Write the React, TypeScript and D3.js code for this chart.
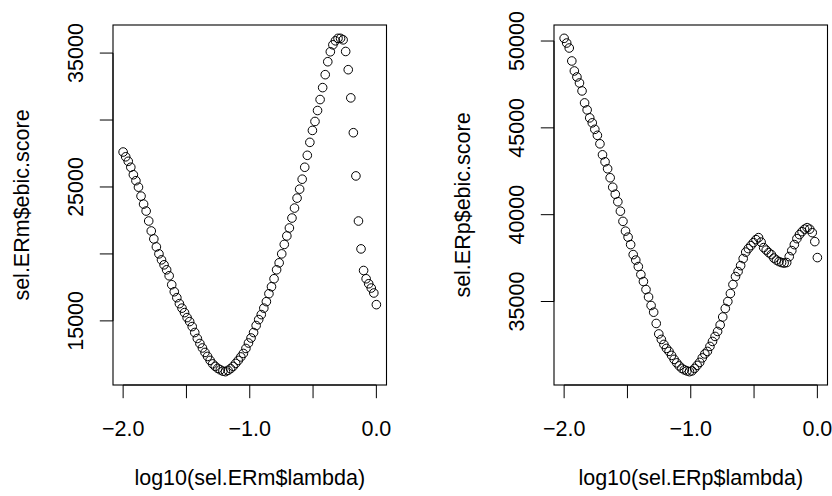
import React from "react";
import * as d3 from "d3";

const logLambda = [
  -2.0, -1.9798, -1.9596, -1.9394, -1.9192, -1.899, -1.8788, -1.8586, -1.8384, -1.8182,
  -1.798, -1.7778, -1.7576, -1.7374, -1.7172, -1.697, -1.6768, -1.6566, -1.6364, -1.6162,
  -1.596, -1.5758, -1.5556, -1.5354, -1.5152, -1.4949, -1.4747, -1.4545, -1.4343, -1.4141,
  -1.3939, -1.3737, -1.3535, -1.3333, -1.3131, -1.2929, -1.2727, -1.2525, -1.2323, -1.2121,
  -1.1919, -1.1717, -1.1515, -1.1313, -1.1111, -1.0909, -1.0707, -1.0505, -1.0303, -1.0101,
  -0.9899, -0.9697, -0.9495, -0.9293, -0.9091, -0.8889, -0.8687, -0.8485, -0.8283, -0.8081,
  -0.7879, -0.7677, -0.7475, -0.7273, -0.7071, -0.6869, -0.6667, -0.6465, -0.6263, -0.6061,
  -0.5859, -0.5657, -0.5455, -0.5253, -0.5051, -0.4848, -0.4646, -0.4444, -0.4242, -0.404,
  -0.3838, -0.3636, -0.3434, -0.3232, -0.303, -0.2828, -0.2626, -0.2424, -0.2222, -0.202,
  -0.1818, -0.1616, -0.1414, -0.1212, -0.101, -0.0808, -0.0606, -0.0404, -0.0202, 0.0,
];

const ermScore = [
  27610, 27253, 26918, 26472, 25914, 25468, 24985, 24316, 23721, 23201,
  22457, 21714, 21119, 20524, 20004, 19558, 19186, 18814, 18368, 17699,
  17178, 16732, 16286, 15951, 15617, 15245, 14948, 14576, 14130, 13684,
  13312, 12977, 12643, 12345, 12048, 11788, 11602, 11453, 11342, 11245,
  11207, 11304, 11431, 11602, 11825, 12048, 12308, 12568, 12940, 13349,
  13721, 14130, 14650, 15096, 15468, 15951, 16435, 17030, 17550, 18145,
  18814, 19335, 20004, 20710, 21342, 21937, 22680, 23424, 24167, 24837,
  25580, 26472, 27364, 28331, 29223, 29892, 30710, 31528, 32420, 33387,
  34353, 35097, 35617, 35915, 36100, 36100, 35989, 35119, 33758, 31654,
  29052, 25825, 22457, 20375, 18762, 18145, 17773, 17453, 17082, 16212,
];

const erpScore = [
  50155, 49885, 49598, 48851, 48276, 47931, 47586, 47127, 46437, 46035,
  45575, 45288, 44914, 44569, 44081, 43448, 43046, 42644, 42126, 41581,
  41178, 40747, 40201, 39615, 39052, 38707, 38276, 37702, 37386, 37012,
  36552, 36150, 35690, 35259, 34770, 34385, 33736, 33132, 32817, 32529,
  32299, 32127, 31897, 31667, 31466, 31293, 31150, 31063, 31006, 30960,
  31006, 31150, 31322, 31495, 31753, 31983, 32127, 32414, 32701, 32989,
  33276, 33649, 34109, 34598, 35000, 35460, 35977, 36437, 36724, 37069,
  37471, 37845, 38046, 38218, 38391, 38563, 38678, 38420, 38104, 37960,
  37816, 37701, 37500, 37385, 37299, 37242, 37213, 37242, 37586, 37931,
  38276, 38621, 38851, 39023, 39167, 39253, 39167, 38966, 38449, 37529,
];

const xTicks = [-2, -1.5, -1, -0.5, 0];
const xTickLabels = ["\u22122.0", "", "\u22121.0", "", "0.0"];

const ermYTicks = [15000, 20000, 25000, 30000, 35000];
const ermYTickLabels = ["15000", "", "25000", "", "35000"];

const erpYTicks = [35000, 40000, 45000, 50000];
const erpYTickLabels = ["35000", "40000", "45000", "50000"];

const panels = [
  {
    ys: ermScore,
    yTicks: ermYTicks,
    yTickLabels: ermYTickLabels,
    xTitle: "log10(sel.ERm$lambda)",
    yTitle: "sel.ERm$ebic.score",
    left: 113,
  },
  {
    ys: erpScore,
    yTicks: erpYTicks,
    yTickLabels: erpYTickLabels,
    xTitle: "log10(sel.ERp$lambda)",
    yTitle: "sel.ERp$ebic.score",
    left: 554,
  },
];

const FONT = "'Liberation Sans', Arial, Helvetica, sans-serif";
const FS = 21.5;

function pad(ext: [number, number]): [number, number] {
  const r = ext[1] - ext[0];
  return [ext[0] - 0.04 * r, ext[1] + 0.04 * r];
}

function Panel({ p }: { p: (typeof panels)[number] }) {
  const W = 273.5;
  const top = 25;
  const bottom = 385;
  const x0 = p.left;
  const x1 = p.left + W;
  const x = d3.scaleLinear().domain(pad(d3.extent(logLambda) as [number, number])).range([x0, x1]);
  const y = d3.scaleLinear().domain(pad(d3.extent(p.ys) as [number, number])).range([bottom, top]);
  const tick = 13.2;
  const yMid = (top + bottom) / 2;
  const xMid = (x0 + x1) / 2;
  return (
    <g>
      {logLambda.map((lv, i) => (
        <circle key={i} cx={x(lv)} cy={y(p.ys[i])} r={4.3} fill="none" stroke="#000" strokeWidth={1} />
      ))}
      <rect x={x0} y={top} width={x1 - x0} height={bottom - top} fill="none" stroke="#000" strokeWidth={1.1} />
      <line x1={x(xTicks[0])} x2={x(xTicks[xTicks.length - 1])} y1={bottom} y2={bottom} stroke="#000" />
      {xTicks.map((t, i) => (
        <g key={i}>
          <line x1={x(t)} x2={x(t)} y1={bottom} y2={bottom + tick} stroke="#000" strokeWidth={1} />
          <text x={x(t)} y={435.5} textAnchor="middle" fontFamily={FONT} fontSize={FS}>
            {xTickLabels[i]}
          </text>
        </g>
      ))}
      <line x1={x0} x2={x0} y1={y(p.yTicks[0])} y2={y(p.yTicks[p.yTicks.length - 1])} stroke="#000" />
      {p.yTicks.map((t, i) => (
        <g key={i}>
          <line x1={x0 - tick} x2={x0} y1={y(t)} y2={y(t)} stroke="#000" strokeWidth={1} />
          <text
            transform={`translate(${x0 - 30.5},${y(t)}) rotate(-90)`}
            textAnchor="middle"
            fontFamily={FONT}
            fontSize={FS}
          >
            {p.yTickLabels[i]}
          </text>
        </g>
      ))}
      <text x={xMid} y={485} textAnchor="middle" fontFamily={FONT} fontSize={FS}>
        {p.xTitle}
      </text>
      <text
        transform={`translate(${x0 - 84},${yMid}) rotate(-90)`}
        textAnchor="middle"
        fontFamily={FONT}
        fontSize={FS}
      >
        {p.yTitle}
      </text>
    </g>
  );
}

export default function App() {
  return (
    <svg
      width={832}
      height={496}
      style={{ position: "absolute", left: 0, top: 0, background: "#fff" }}
    >
      <rect x={0} y={0} width={832} height={496} fill="#fff" />
      {panels.map((p, i) => (
        <Panel key={i} p={p} />
      ))}
    </svg>
  );
}
